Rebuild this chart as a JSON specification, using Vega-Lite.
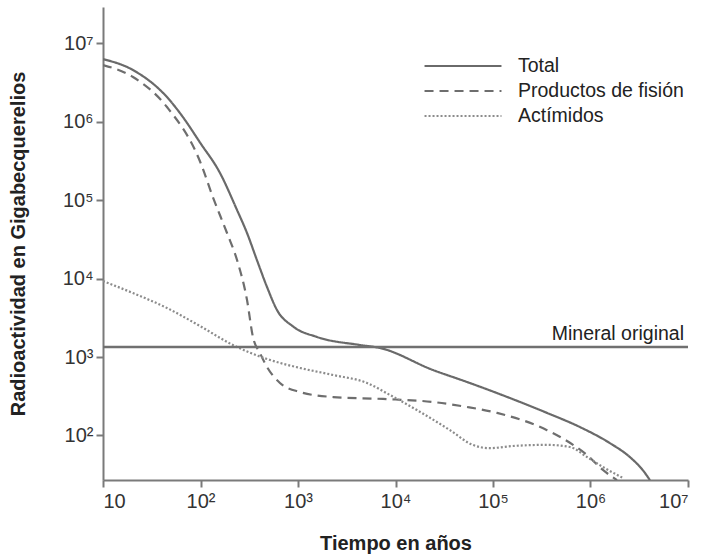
{
  "$schema": "https://vega.github.io/schema/vega-lite/v6.json",
  "width": 585,
  "height": 473,
  "autosize": {"type": "none"},
  "padding": {"left": 103, "top": 7, "right": 38, "bottom": 79},
  "background": "white",
  "config": {
    "view": {"stroke": null},
    "font": "Liberation Sans",
    "axis": {
      "grid": false,
      "domainColor": "#7a7a7a",
      "domainWidth": 2,
      "tickColor": "#7a7a7a",
      "tickWidth": 2,
      "tickSize": 7,
      "labelFont": "Liberation Sans",
      "labelFontSize": 20,
      "labelColor": "#333333",
      "titleFont": "Liberation Sans",
      "titleFontSize": 20,
      "titleFontWeight": "bold",
      "titleColor": "#222222"
    }
  },
  "layer": [
    {
      "data": {
        "values": [
          {"t": 10, "v": 6250000, "s": "Total"},
          {"t": 20.3, "v": 4530000, "s": "Total"},
          {"t": 45.3, "v": 2050000, "s": "Total"},
          {"t": 66, "v": 1140000, "s": "Total"},
          {"t": 98.9, "v": 540000, "s": "Total"},
          {"t": 158.5, "v": 221000, "s": "Total"},
          {"t": 237, "v": 74600, "s": "Total"},
          {"t": 300, "v": 38000, "s": "Total"},
          {"t": 379, "v": 17200, "s": "Total"},
          {"t": 481, "v": 7800, "s": "Total"},
          {"t": 609, "v": 3970, "s": "Total"},
          {"t": 889, "v": 2450, "s": "Total"},
          {"t": 1567, "v": 1800, "s": "Total"},
          {"t": 4325, "v": 1422, "s": "Total"},
          {"t": 6930, "v": 1303, "s": "Total"},
          {"t": 24300, "v": 682, "s": "Total"},
          {"t": 54000, "v": 481, "s": "Total"},
          {"t": 110000, "v": 347, "s": "Total"},
          {"t": 358000, "v": 194, "s": "Total"},
          {"t": 780000, "v": 128, "s": "Total"},
          {"t": 1580000, "v": 80, "s": "Total"},
          {"t": 2540000, "v": 53, "s": "Total"},
          {"t": 3450000, "v": 36, "s": "Total"},
          {"t": 4070000, "v": 27, "s": "Total"},

          {"t": 10, "v": 5250000, "s": "Productos de fisión"},
          {"t": 20.3, "v": 3690000, "s": "Productos de fisión"},
          {"t": 45.3, "v": 1530000, "s": "Productos de fisión"},
          {"t": 98.9, "v": 310000, "s": "Productos de fisión"},
          {"t": 134, "v": 109000, "s": "Productos de fisión"},
          {"t": 187, "v": 38000, "s": "Productos de fisión"},
          {"t": 237, "v": 17200, "s": "Productos de fisión"},
          {"t": 300, "v": 5320, "s": "Productos de fisión"},
          {"t": 345, "v": 1800, "s": "Productos de fisión"},
          {"t": 407, "v": 1125, "s": "Productos de fisión"},
          {"t": 481, "v": 746, "s": "Productos de fisión"},
          {"t": 653, "v": 467, "s": "Productos de fisión"},
          {"t": 1050, "v": 358, "s": "Productos de fisión"},
          {"t": 2290, "v": 309, "s": "Productos de fisión"},
          {"t": 7450, "v": 292, "s": "Productos de fisión"},
          {"t": 24300, "v": 267, "s": "Productos de fisión"},
          {"t": 54000, "v": 231, "s": "Productos de fisión"},
          {"t": 110000, "v": 194, "s": "Productos de fisión"},
          {"t": 358000, "v": 117, "s": "Productos de fisión"},
          {"t": 662000, "v": 76, "s": "Productos de fisión"},
          {"t": 920000, "v": 56.5, "s": "Productos de fisión"},
          {"t": 1340000, "v": 36.4, "s": "Productos de fisión"},
          {"t": 1870000, "v": 27, "s": "Productos de fisión"},

          {"t": 10, "v": 9290, "s": "Actímidos"},
          {"t": 20.3, "v": 6530, "s": "Actímidos"},
          {"t": 45.3, "v": 4210, "s": "Actímidos"},
          {"t": 98.9, "v": 2480, "s": "Actímidos"},
          {"t": 215, "v": 1422, "s": "Actímidos"},
          {"t": 481, "v": 944, "s": "Actímidos"},
          {"t": 1050, "v": 725, "s": "Actímidos"},
          {"t": 2290, "v": 590, "s": "Actímidos"},
          {"t": 5100, "v": 467, "s": "Actímidos"},
          {"t": 8790, "v": 328, "s": "Actímidos"},
          {"t": 16600, "v": 211, "s": "Actímidos"},
          {"t": 36200, "v": 117, "s": "Actímidos"},
          {"t": 62300, "v": 75.7, "s": "Actímidos"},
          {"t": 93100, "v": 69, "s": "Actímidos"},
          {"t": 160000, "v": 73.5, "s": "Actímidos"},
          {"t": 358000, "v": 76, "s": "Actímidos"},
          {"t": 617000, "v": 71.4, "s": "Actímidos"},
          {"t": 920000, "v": 53.2, "s": "Actímidos"},
          {"t": 1340000, "v": 39.7, "s": "Actímidos"},
          {"t": 2150000, "v": 28.8, "s": "Actímidos"}
        ]
      },
      "mark": {"type": "line", "interpolate": "monotone", "strokeWidth": 2.2, "clip": true},
      "encoding": {
        "x": {
          "field": "t", "type": "quantitative",
          "scale": {"type": "log", "domain": [10, 10000000], "nice": false},
          "axis": {
            "title": "Tiempo en años",
            "values": [10, 100, 1000, 10000, 100000, 1000000, 10000000],
            "labelExpr": "datum.value == 10 ? '10' : '10' + ['','','²','³','⁴','⁵','⁶','⁷'][round(log(datum.value)/LN10)]",
            "labelPadding": 4,
            "titlePadding": 22
          }
        },
        "y": {
          "field": "v", "type": "quantitative",
          "scale": {"type": "log", "domain": [27.1, 28800000], "nice": false},
          "axis": {
            "title": "Radioactividad en Gigabecquerelios",
            "values": [100, 1000, 10000, 100000, 1000000, 10000000],
            "labelExpr": "'10' + ['','','²','³','⁴','⁵','⁶','⁷'][round(log(datum.value)/LN10)]",
            "labelPadding": 3,
            "titlePadding": 34
          }
        },
        "strokeDash": {
          "field": "s", "type": "nominal",
          "scale": {"domain": ["Total", "Productos de fisión", "Actímidos"], "range": [[1, 0], [9, 6], [2, 2]]},
          "legend": {
            "title": null,
            "orient": "none",
            "legendX": 349,
            "legendY": 48,
            "padding": 0,
            "symbolType": "M-4,0H4",
            "symbolSize": 370,
            "symbolStrokeWidth": 2.2,
            "labelFont": "Liberation Sans",
            "labelFontSize": 19.5,
            "labelColor": "#222222",
            "labelOffset": 44,
            "labelLimit": 400,
            "rowPadding": 4
          }
        },
        "color": {
          "field": "s", "type": "nominal",
          "scale": {"domain": ["Total", "Productos de fisión", "Actímidos"], "range": ["#6a6a6a", "#6e6e6e", "#8c8c8c"]},
          "legend": {
            "title": null,
            "orient": "none",
            "legendX": 349,
            "legendY": 48,
            "padding": 0,
            "symbolType": "M-4,0H4",
            "symbolSize": 370,
            "symbolStrokeWidth": 2.2,
            "labelFont": "Liberation Sans",
            "labelFontSize": 19.5,
            "labelColor": "#222222",
            "labelOffset": 44,
            "labelLimit": 400,
            "rowPadding": 4
          }
        }
      }
    },
    {
      "data": {"values": [{"v": 1340}]},
      "mark": {"type": "rule", "color": "#707070", "strokeWidth": 2.5},
      "encoding": {"y": {"field": "v", "type": "quantitative"}}
    },
    {
      "data": {"values": [{"t": 10000000, "v": 1340, "label": "Mineral original"}]},
      "mark": {"type": "text", "align": "right", "baseline": "alphabetic", "dx": -4, "dy": -7, "fontSize": 19.5, "font": "Liberation Sans", "color": "#222222"},
      "encoding": {
        "x": {"field": "t", "type": "quantitative"},
        "y": {"field": "v", "type": "quantitative"},
        "text": {"field": "label"}
      }
    }
  ]
}
